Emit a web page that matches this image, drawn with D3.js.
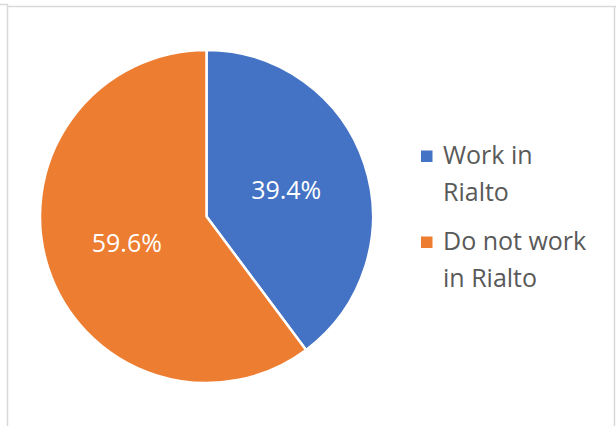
<!DOCTYPE html>
<html>
<head>
<meta charset="utf-8">
<script src="https://cdn.jsdelivr.net/npm/d3@7"></script>
<style>
  html, body { margin: 0; padding: 0; background: #fff; }
  svg { display: block; }
</style>
</head>
<body>
<svg id="chart" width="616" height="426"></svg>
<script>
// Commuting split: share of residents by workplace
const categories = ["Work in Rialto", "Do not work in Rialto"];
const legendLines = [["Work in", "Rialto"], ["Do not work", "in Rialto"]];
const values = [39.4, 59.6];
const colors = ["#4472C4", "#ED7D31"];

const svg = d3.select("#chart");
const font = "'Open Sans', sans-serif";

// Chart frame
const frame = svg.append("g").attr("stroke", "#d9d9d9").attr("stroke-width", 1.5).attr("fill", "none");
frame.append("line").attr("x1", 0).attr("x2", 8).attr("y1", 4.5).attr("y2", 4.5);
frame.append("line").attr("x1", 7.5).attr("x2", 7.5).attr("y1", 4).attr("y2", 426);
frame.append("line").attr("x1", 8).attr("x2", 616).attr("y1", 6.5).attr("y2", 6.5);
frame.append("line").attr("x1", 614.5).attr("x2", 614.5).attr("y1", 6).attr("y2", 426);

const cx = 206.5, cy = 216.5, r = 166.5;

const pie = d3.pie().sort(null).value(d => d);
const arcs = pie(values);
const arc = d3.arc().innerRadius(0).outerRadius(r);
const labelArc = d3.arc().innerRadius(84).outerRadius(84);

const g = svg.append("g").attr("transform", `translate(${cx},${cy})`);

g.selectAll("path.slice")
  .data(arcs)
  .join("path")
  .attr("class", "slice")
  .attr("d", arc)
  .attr("fill", (d, i) => colors[i])
  .attr("stroke", "#fff")
  .attr("stroke-width", 2.5)
  .attr("stroke-linejoin", "round");

g.selectAll("text.pct")
  .data(arcs)
  .join("text")
  .attr("class", "pct")
  .attr("x", d => labelArc.centroid(d)[0])
  .attr("y", d => labelArc.centroid(d)[1] + 9)
  .attr("text-anchor", "middle")
  .attr("font-family", font)
  .attr("font-size", 25)
  .attr("fill", "#fff")
  .text(d => d.data.toFixed(1) + "%");

// Legend
const legendY = [164, 250];
const legend = svg.append("g");
categories.forEach((c, i) => {
  const row = legend.append("g").attr("transform", `translate(0,${legendY[i]})`);
  row.append("rect")
    .attr("x", 421).attr("y", -13.5)
    .attr("width", 11.5).attr("height", 11.5)
    .attr("fill", colors[i]);
  const t = row.append("text")
    .attr("font-family", font)
    .attr("font-size", 25)
    .attr("fill", "#595959");
  legendLines[i].forEach((line, j) => {
    t.append("tspan").attr("x", 443).attr("y", j * 36.5).text(line);
  });
});
</script>
</body>
</html>
